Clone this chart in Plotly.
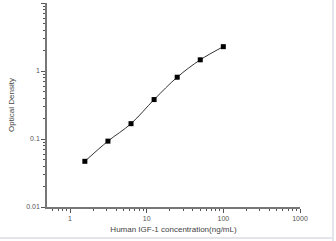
import plotly.graph_objects as go

conc = [1.5625, 3.125, 6.25, 12.5, 25, 50, 100]
od = [0.047, 0.093, 0.168, 0.38, 0.81, 1.46, 2.28]

x_major = [1, 10, 100, 1000]
x_major_text = ["1", "10", "100", "1000"]
y_major = [0.01, 0.1, 1, 10]
y_major_text = ["0.01", "0.1", "1", "10"]

def minors(decades):
    return [m * d for d in decades for m in range(2, 10)]

fig = go.Figure()
fig.add_trace(go.Scatter(
    x=conc, y=od, mode="lines+markers",
    line=dict(color="#333333", width=1, shape="spline"),
    marker=dict(symbol="square", size=5, color="#000000"),
))

axis_common = dict(
    type="log", showgrid=False, zeroline=False, showline=True,
    linecolor="#777777", linewidth=1.5, ticks="outside", ticklen=4,
    tickcolor="#555555", tickwidth=1,
    tickfont=dict(family="Liberation Sans, Arial", size=7, color="#555555"),
)

fig.update_layout(
    width=336, height=241,
    margin=dict(l=47, r=36, t=3, b=34),
    paper_bgcolor="white", plot_bgcolor="white",
    showlegend=False,
    xaxis=dict(
        **axis_common, range=[-0.3, 3],
        tickvals=x_major, ticktext=x_major_text,
        minor=dict(tickvals=minors([0.1, 1, 10, 100]), ticks="outside", ticklen=2, tickcolor="#555555"),
        title=dict(text="Human IGF-1 concentration(ng/mL)", standoff=5,
                   font=dict(family="Liberation Sans, Arial", size=8, color="#444444")),
    ),
    yaxis=dict(
        **axis_common, range=[-2, 1],
        tickvals=y_major, ticktext=y_major_text,
        minor=dict(tickvals=minors([0.01, 0.1, 1]), ticks="outside", ticklen=2, tickcolor="#555555"),
        title=dict(text="Optical Density", standoff=10,
                   font=dict(family="Liberation Sans, Arial", size=8, color="#444444")),
    ),
    shapes=[
        dict(type="line", xref="paper", yref="paper", x0=(333 - 47) / 253, x1=(333 - 47) / 253,
             y0=-34 / 204, y1=1 + 3 / 204, line=dict(color="#e4e4ec", width=2)),
        dict(type="line", xref="paper", yref="paper", x0=-47 / 253, x1=(334 - 47) / 253,
             y0=-(238 - 207) / 204, y1=-(238 - 207) / 204, line=dict(color="#e4e4ec", width=2)),
    ],
)

fig.write_html("out.html")
